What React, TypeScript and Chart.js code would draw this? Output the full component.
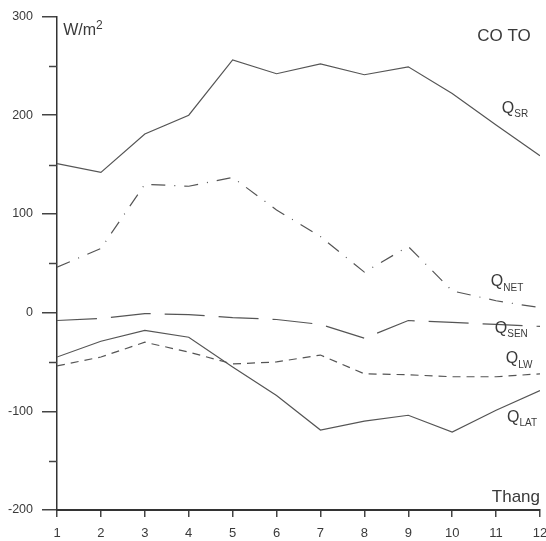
import React, { useEffect, useRef } from "react";
import { Chart, registerables } from "chart.js";

Chart.register(...registerables);

const months = [1, 2, 3, 4, 5, 6, 7, 8, 9, 10, 11, 12];
const qSR = [151, 142, 181, 200, 256, 242, 252, 241, 249, 222, 190, 159];
const qNET = [46, 65, 130, 128, 137, 104, 77, 41, 67, 22, 12, 5];
const qSEN = [-8, -6, -1, -2, -5, -7, -12, -26, -8, -10, -12, -14];
const qLW = [-54, -45, -30, -40, -52, -50, -43, -62, -63, -65, -65, -62];
const qLAT = [-45, -29, -18, -25, -55, -84, -119, -110, -104, -121, -99, -79];
const yTicksMajor = [-200, -100, 0, 100, 200, 300];

const LINE = "#555";
const TEXT = "#3a3a3a";
const FONT = "'Liberation Sans', Arial, sans-serif";

type Lbl = { main: string; sub: string; x: number; y: number };
const seriesLabels: Lbl[] = [
  { main: "Q", sub: "SR", x: 11.13, y: 207 },
  { main: "Q", sub: "NET", x: 10.88, y: 31 },
  { main: "Q", sub: "SEN", x: 10.97, y: -16 },
  { main: "Q", sub: "LW", x: 11.22, y: -47 },
  { main: "Q", sub: "LAT", x: 11.25, y: -106 },
];

const textPlugin = {
  id: "texts",
  afterDraw(chart: any) {
    const ctx = chart.ctx;
    const xs = chart.scales.x;
    const ys = chart.scales.y;
    const area = chart.chartArea;
    ctx.save();
    ctx.fillStyle = TEXT;
    ctx.textBaseline = "middle";
    ctx.textAlign = "left";
    // minor ticks on y
    ctx.strokeStyle = "#444";
    ctx.lineWidth = 1.5;
    for (let v = -150; v <= 250; v += 100) {
      const p = Math.round(ys.getPixelForValue(v)) + 0.5;
      ctx.beginPath();
      ctx.moveTo(area.left - 8, p);
      ctx.lineTo(area.left, p);
      ctx.stroke();
    }
    // series labels
    for (const l of seriesLabels) {
      const px = xs.getPixelForValue(l.x);
      const py = ys.getPixelForValue(l.y);
      ctx.font = `16px ${FONT}`;
      ctx.fillText(l.main, px, py);
      const w = ctx.measureText(l.main).width;
      ctx.font = `10px ${FONT}`;
      ctx.fillText(l.sub, px + w, py + 6);
    }
    // unit
    {
      const px = xs.getPixelForValue(1.14);
      const py = ys.getPixelForValue(286);
      ctx.font = `16px ${FONT}`;
      ctx.fillText("W/m", px, py);
      const w = ctx.measureText("W/m").width;
      ctx.font = `12px ${FONT}`;
      ctx.fillText("2", px + w, py - 5);
    }
    // title
    ctx.font = `17px ${FONT}`;
    ctx.fillText("CO TO", xs.getPixelForValue(10.57), ys.getPixelForValue(280));
    // x axis title
    ctx.textAlign = "right";
    ctx.font = `17px ${FONT}`;
    ctx.fillText("Thang", xs.getPixelForValue(12), ys.getPixelForValue(-187));
    ctx.restore();
  },
};

export default function App() {
  const ref = useRef<HTMLCanvasElement>(null);
  useEffect(() => {
    if (!ref.current) return;
    const mk = (data: number[], dash: number[]) => ({
      data: months.map((m, i) => ({ x: m, y: data[i] })),
      borderColor: LINE,
      borderWidth: 1.2,
      borderDash: dash,
      pointRadius: 0,
      fill: false,
      tension: 0,
    });
    const chart = new Chart(ref.current, {
      type: "line",
      data: {
        datasets: [
          mk(qSR, []),
          mk(qNET, [14, 9, 1, 9]),
          mk(qSEN, [40, 14]),
          mk(qLW, [8, 6]),
          mk(qLAT, []),
        ],
      },
      options: {
        animation: false,
        responsive: false,
        maintainAspectRatio: false,
        layout: { padding: { top: 16, right: 0, left: 0, bottom: 0 } },
        plugins: { legend: { display: false }, tooltip: { enabled: false } },
        scales: {
          x: {
            type: "linear",
            min: 1,
            max: 12,
            afterFit: (s: any) => {
              s.height = 31;
              s.paddingRight = 6;
            },
            ticks: {
              stepSize: 1,
              color: TEXT,
              font: { family: FONT, size: 13 },
              padding: 9,
              maxRotation: 0,
            },
            grid: {
              drawOnChartArea: false,
              drawTicks: true,
              tickLength: 7,
              color: "#444",
              lineWidth: 1.5,
            },
            border: { display: true, color: "#333", width: 2 },
          },
          y: {
            min: -200,
            max: 300,
            afterFit: (s: any) => {
              s.width = 57;
            },
            afterBuildTicks: (s: any) => {
              s.ticks = yTicksMajor.map((v) => ({ value: v }));
            },
            ticks: {
              color: TEXT,
              font: { family: FONT, size: 12.5 },
              padding: 9,
            },
            grid: {
              drawOnChartArea: false,
              drawTicks: true,
              tickLength: 15,
              color: "#444",
              lineWidth: 1.5,
            },
            border: { display: true, color: "#333", width: 1.5 },
          },
        },
      },
      plugins: [textPlugin],
    });
    return () => chart.destroy();
  }, []);
  return (
    <div style={{ position: "fixed", left: 0, top: 0, width: 546, height: 541, background: "#fff" }}>
      <canvas ref={ref} width={546} height={541} style={{ width: 546, height: 541 }} />
    </div>
  );
}
